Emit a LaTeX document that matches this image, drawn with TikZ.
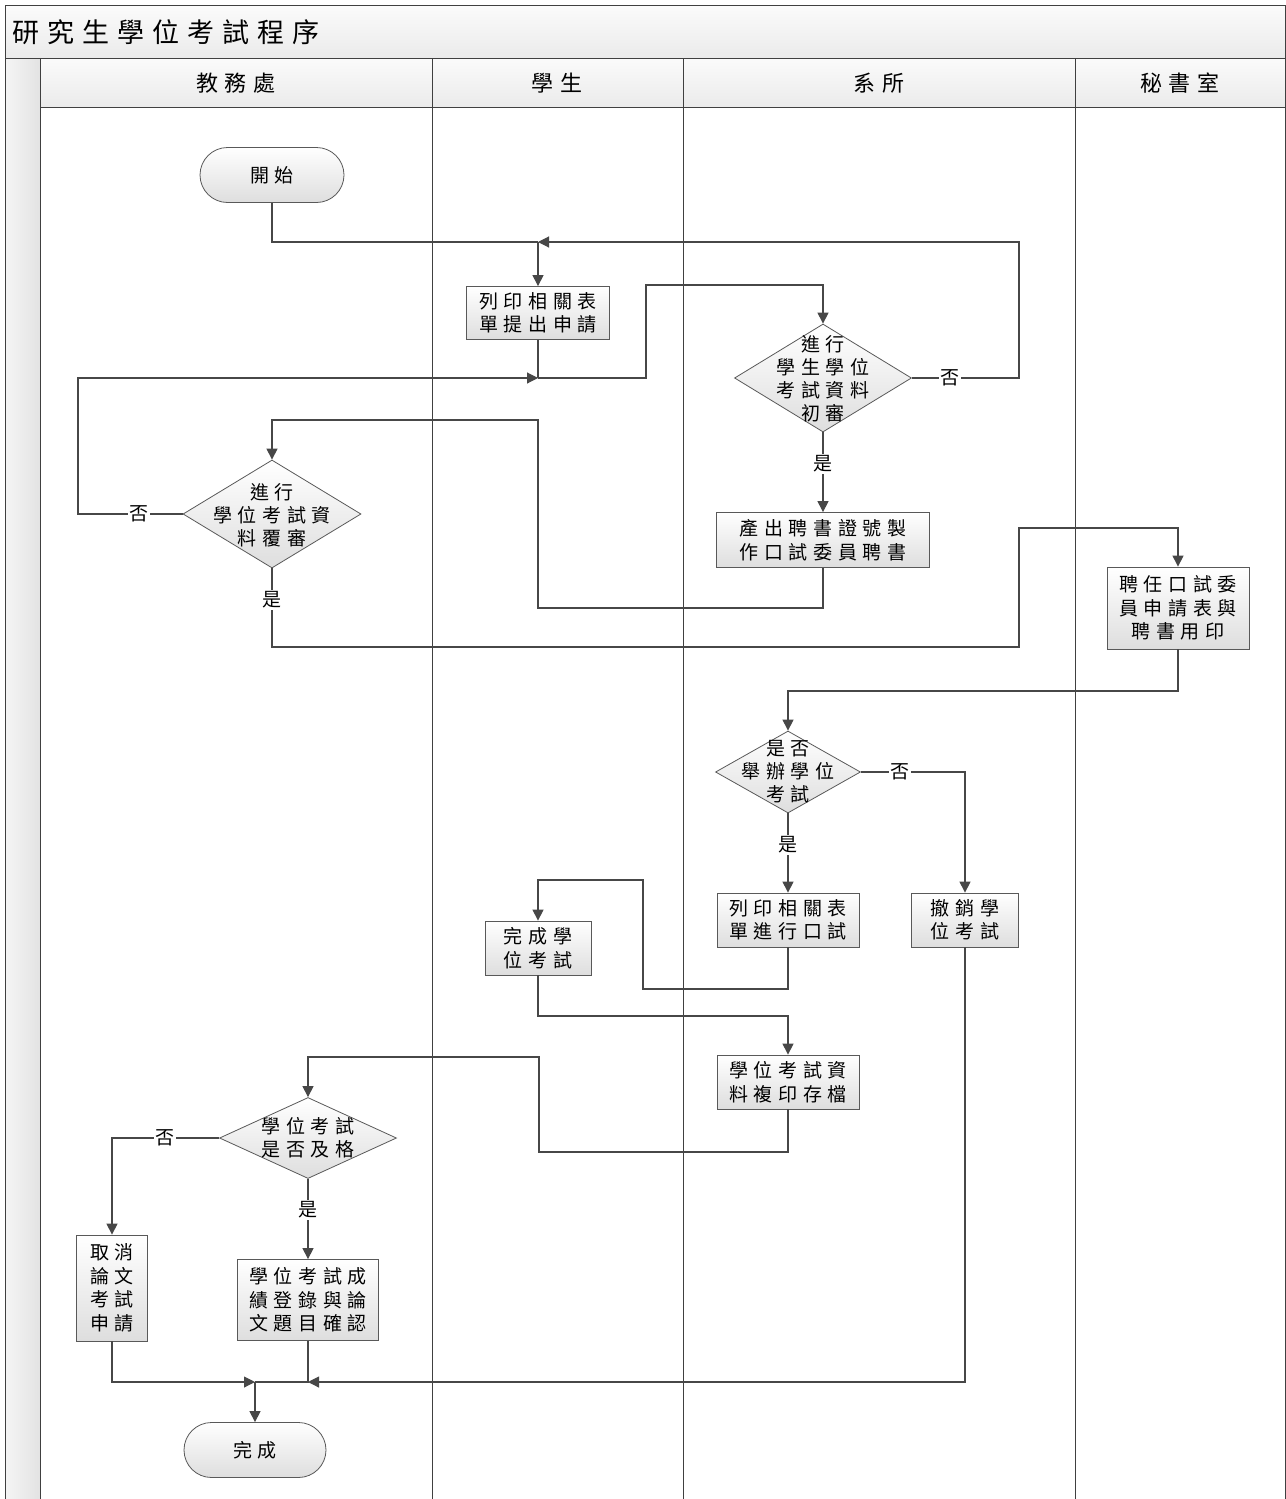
\documentclass[tikz,border=0pt]{standalone}
\usepackage{fontspec}
\newfontfamily\cjk[LetterSpace=30]{Noto Sans CJK TC}
\usetikzlibrary{shapes.geometric,shapes.misc,arrows.meta}
\begin{document}
\begin{tikzpicture}[x=1pt,y=-1pt,
  line/.style={draw=black!72, line width=1.1pt},
  conn/.style={line, -{Triangle[length=11pt,width=11pt]}},
  shapebase/.style={draw=black!65, line width=0.8pt, top color=white, bottom color=black!13, inner sep=0pt},
  proc/.style={shapebase, rectangle, align=center, font=\cjk\fontsize{19}{23.5}\selectfont},
  dia/.style={shapebase, diamond},
  term/.style={shapebase, rounded rectangle, font=\cjk\fontsize{19}{23.5}\selectfont},
  dtxt/.style={align=center, inner sep=0pt, font=\cjk\fontsize{19}{23}\selectfont},
  lab/.style={fill=white, inner sep=1.5pt, font=\cjk\fontsize{19}{22}\selectfont},
  lane/.style={draw=black!75, line width=0.9pt},
  hdr/.style={font=\cjk\fontsize{22}{24}\selectfont}
]
\useasboundingbox (0,0) rectangle (1285,1499);
\fill[white] (0,0) rectangle (1285,1499);
% title band
\shade[top color=gray!3, bottom color=gray!16] (5,5) rectangle (1285,58);
% header row
\shade[top color=gray!3, bottom color=gray!16] (40,58) rectangle (1285,107);
% left strip
\shade[left color=gray!8, right color=gray!22] (5,58) rectangle (40,1499);
\draw[lane] (5,1499) -- (5,5) -- (1285,5) -- (1285,1499);
\draw[lane] (5,58) -- (1285,58);
\draw[lane] (40,107) -- (1285,107);
\foreach \xx in {40,432,683,1075} \draw[lane] (\xx,58) -- (\xx,1499);
\node[anchor=west, inner sep=0pt, font=\cjk\fontsize{27}{30}\selectfont] (title) at (12,32) {研究生學位考試程序};
\node[hdr] (h1) at (236,83) {教務處};
\node[hdr] (h2) at (557,83) {學生};
\node[hdr] (h3) at (879,83) {系所};
\node[hdr] (h4) at (1180,83) {秘書室};

% nodes
\node[term, minimum width=144pt, minimum height=55pt] (start) at (272,175) {開始};
\node[proc, minimum width=143pt, minimum height=53pt] (b1) at (538,313) {列印相關表\\單提出申請};
\node[dia, minimum width=177pt, minimum height=108pt] (d1) at (823,378) {};
\node[dtxt] (d1t) at (823,379) {進行\\學生學位\\考試資料\\初審};
\node[proc, minimum width=213pt, minimum height=55pt] (b2) at (823,540) {產出聘書證號製\\作口試委員聘書};
\node[dia, minimum width=178pt, minimum height=108pt] (d2) at (272,514) {};
\node[dtxt] (d2t) at (272,515) {進行\\學位考試資\\料覆審};
\node[proc, minimum width=142pt, minimum height=82pt] (b3) at (1178,608) {聘任口試委\\員申請表與\\聘書用印};
\node[dia, minimum width=145pt, minimum height=82pt] (d3) at (788,772) {};
\node[dtxt] (d3t) at (788,772) {是否\\舉辦學位\\考試};
\node[proc, minimum width=142pt, minimum height=54pt] (b4) at (788,920) {列印相關表\\單進行口試};
\node[proc, minimum width=107pt, minimum height=54pt] (b5) at (965,920) {撤銷學\\位考試};
\node[proc, minimum width=106pt, minimum height=54pt] (b6) at (538,948) {完成學\\位考試};
\node[proc, minimum width=142pt, minimum height=54pt] (b7) at (788,1082) {學位考試資\\料複印存檔};
\node[dia, minimum width=177pt, minimum height=81pt] (d4) at (308,1138) {};
\node[dtxt] (d4t) at (308,1138) {學位考試\\是否及格};
\node[proc, minimum width=71pt, minimum height=106pt] (b8) at (112,1288) {取消\\論文\\考試\\申請};
\node[proc, minimum width=141pt, minimum height=81pt] (b9) at (308,1300) {學位考試成\\績登錄與論\\文題目確認};
\node[term, minimum width=142pt, minimum height=55pt] (end) at (255,1450) {完成};

% junctions
\coordinate (j1) at (538,242);
\coordinate (j2) at (538,378);
\coordinate (j5) at (255,1382);
\coordinate (j6) at (308,1382);

% connectors
\draw[line] (start.south) |- (j1);
\draw[conn] (j1) -- (b1.north);
\draw[conn] (d1.east) -- (1019,378) -- (1019,242) -- (j1);
\node[lab] (n1) at (950,378) {否};
\draw[line] (b1.south) -- (j2);
\draw[conn] (d2.west) -- (78,514) -- (78,378) -- (j2);
\node[lab] (n2) at (139,514) {否};
\draw[conn] (j2) -- (646,378) -- (646,285) -- (823,285) -- (d1.north);
\draw[conn] (d1.south) -- (b2.north);
\node[lab] (y1) at (823,464) {是};
\draw[conn] (b2.south) -- (823,608) -- (538,608) -- (538,420) -- (272,420) -- (d2.north);
\draw[conn] (d2.south) -- (272,647) -- (1019,647) -- (1019,528) -- (1178,528) -- (b3.north);
\node[lab] (y2) at (272,600) {是};
\draw[conn] (b3.south) -- (1178,691) -- (788,691) -- (d3.north);
\draw[conn] (d3.east) -- (965,772) -- (b5.north);
\node[lab] (n3) at (900,772) {否};
\draw[conn] (d3.south) -- (b4.north);
\node[lab] (y3) at (788,845) {是};
\draw[conn] (b4.south) -- (788,989) -- (643,989) -- (643,880) -- (538,880) -- (b6.north);
\draw[conn] (b6.south) -- (538,1016) -- (788,1016) -- (b7.north);
\draw[conn] (b7.south) -- (788,1152) -- (539,1152) -- (539,1057) -- (308,1057) -- (d4.north);
\draw[conn] (d4.west) -- (112,1138) -- (b8.north);
\node[lab] (n4) at (165,1138) {否};
\draw[conn] (d4.south) -- (b9.north);
\node[lab] (y4) at (308,1210) {是};
\draw[conn] (b8.south) |- (j5);
\draw[conn] (b5.south) |- (j6);
\draw[line] (b9.south) -- (j6) -- (j5);
\draw[conn] (j5) -- (end.north);
\end{tikzpicture}
\end{document}
